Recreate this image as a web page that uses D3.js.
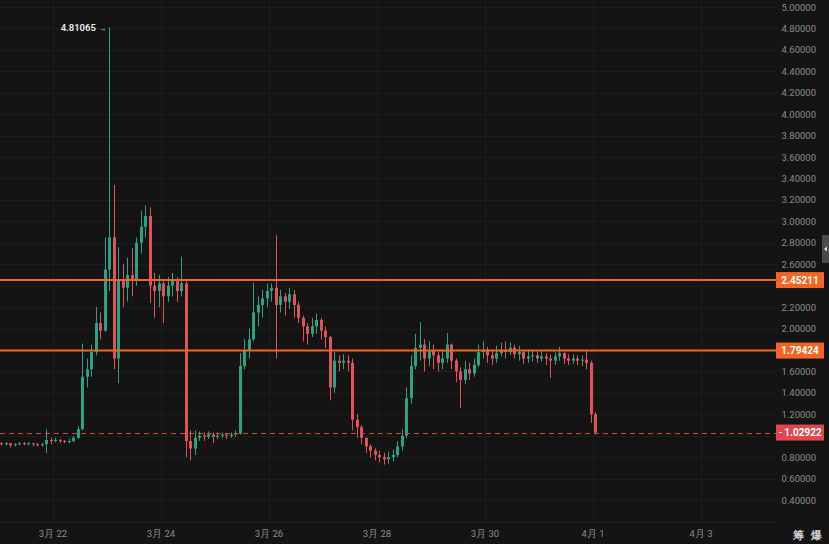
<!DOCTYPE html>
<html>
<head>
<meta charset="utf-8">
<script src="https://cdn.jsdelivr.net/npm/d3@7"></script>
<style>
  html, body { margin: 0; padding: 0; background: #141414; }
  svg { display: block; }
  text { font-family: Roboto, "Noto Sans", Arial, sans-serif; }
</style>
</head>
<body>
<svg id="chart" width="829" height="544"></svg>
<script>
// ---- data (2-hour candles starting 3月21 00:00) ----
const startTime = "2025-03-21T00:00:00";
const intervalHours = 2;
const firstOpen = 0.93;
const closes = [
  0.92,0.93,0.91,0.92,0.93,0.92,0.93,0.92,0.91,0.92,
  0.96,0.95,0.96,0.95,0.94,0.95,0.98,1.06,1.55,1.62,
  1.78,2.05,1.98,2.55,2.85,1.72,2.45,2.38,2.50,2.45,
  2.80,2.95,3.05,2.40,2.35,2.42,2.30,2.40,2.45,2.35,
  2.42,0.95,0.88,0.98,1.00,0.99,1.01,0.99,1.00,1.01,
  1.00,1.01,1.02,1.65,1.80,1.90,2.15,2.22,2.28,2.35,
  2.38,2.22,2.30,2.25,2.32,2.22,2.10,2.02,1.95,2.02,
  2.08,1.98,1.92,1.45,1.70,1.68,1.70,1.68,1.15,1.08,
  0.98,0.90,0.86,0.82,0.80,0.78,0.80,0.82,0.90,1.00,
  1.35,1.65,1.82,1.85,1.72,1.80,1.75,1.68,1.72,1.85,
  1.70,1.60,1.52,1.62,1.58,1.66,1.78,1.80,1.75,1.72,
  1.77,1.80,1.78,1.82,1.76,1.78,1.72,1.74,1.75,1.72,
  1.74,1.72,1.70,1.74,1.77,1.72,1.70,1.72,1.70,1.71,
  1.68,1.20,1.02922
];
const highs = [
  0.94,0.94,0.93,0.93,0.94,0.94,0.94,0.93,0.93,0.93,
  1.06,0.98,0.98,0.97,0.96,0.97,1.00,1.09,1.86,1.72,
  1.85,2.20,2.15,2.85,4.81065,3.34,2.76,2.60,2.66,2.75,
  2.85,3.10,3.15,3.13,2.52,2.50,2.45,2.48,2.52,2.48,
  2.67,2.45,1.05,1.05,1.04,1.03,1.04,1.03,1.03,1.03,
  1.02,1.03,1.05,1.77,1.90,2.00,2.43,2.30,2.36,2.42,
  2.42,2.87,2.36,2.33,2.38,2.36,2.25,2.12,2.05,2.10,
  2.14,2.10,2.02,1.93,1.78,1.75,1.76,1.75,1.72,1.20,
  1.10,0.98,0.92,0.88,0.86,0.84,0.85,0.87,0.95,1.06,
  1.45,1.75,1.95,2.06,1.90,1.88,1.85,1.78,1.80,1.96,
  1.86,1.72,1.64,1.70,1.68,1.72,1.85,1.88,1.83,1.80,
  1.84,1.87,1.88,1.87,1.85,1.84,1.80,1.79,1.80,1.78,
  1.79,1.77,1.76,1.78,1.83,1.78,1.76,1.76,1.75,1.75,
  1.80,1.70,1.22
];
const lows = [
  0.91,0.91,0.89,0.90,0.91,0.91,0.91,0.90,0.90,0.90,
  0.84,0.92,0.94,0.93,0.93,0.93,0.94,0.97,1.05,1.45,
  1.55,1.75,1.90,1.97,2.35,1.62,1.49,2.20,2.25,2.30,
  2.40,2.70,2.85,2.24,2.10,2.20,2.05,2.25,2.30,2.25,
  2.30,0.80,0.77,0.82,0.95,0.95,0.97,0.93,0.97,0.98,
  0.97,0.98,0.99,1.01,1.62,1.72,1.88,2.02,2.10,2.20,
  2.25,1.72,2.15,2.12,2.18,2.10,2.05,1.88,1.85,1.92,
  1.95,1.90,1.82,1.33,1.40,1.60,1.62,1.60,1.05,0.98,
  0.92,0.84,0.80,0.77,0.75,0.73,0.74,0.76,0.80,0.86,
  0.98,1.30,1.62,1.70,1.60,1.65,1.62,1.60,1.62,1.68,
  1.62,1.50,1.26,1.48,1.52,1.55,1.64,1.72,1.68,1.66,
  1.68,1.74,1.72,1.75,1.72,1.70,1.67,1.68,1.69,1.68,
  1.69,1.66,1.54,1.66,1.70,1.67,1.66,1.67,1.66,1.65,
  1.62,1.12,1.01
];
const yTicks = [0.4,0.6,0.8,1.0,1.2,1.4,1.6,1.8,2.0,2.2,2.4,2.6,2.8,3.0,3.2,3.4,3.6,3.8,4.0,4.2,4.4,4.6,4.8,5.0];
const xTickDates = ["2025-03-22","2025-03-24","2025-03-26","2025-03-28","2025-03-30","2025-04-01","2025-04-03"];
const xTickLabels = ["3月 22","3月 24","3月 26","3月 28","3月 30","4月 1","4月 3"];
const levelLines = [2.45211, 1.79424];
const lastPrice = 1.02922;
const highLabel = "4.81065";
const cornerLabels = ["筹","爆"];

// ---- build candles ----
const t0 = new Date(startTime).getTime();
const hourMs = 3600 * 1000;
const candles = closes.map((c, i) => ({
  t: new Date(t0 + i * intervalHours * hourMs),
  tc: new Date(t0 + (i + 0.5) * intervalHours * hourMs),
  o: i === 0 ? firstOpen : closes[i - 1],
  h: highs[i], l: lows[i], c: c
}));

// ---- layout ----
const W = 829, H = 544;
const plotR = 776, plotB = 522;
const bg = "#141414", gridC = "#1d1d1d";
const upC = "#2aa385", downC = "#e0535b";
const orange = "#f26522", lastC = "#e2474f";

const svg = d3.select("#chart");
svg.append("rect").attr("width", W).attr("height", H).attr("fill", bg);

const dayMs = 24 * hourMs;
const xDomain0 = t0 + dayMs / 54;
const x = d3.scaleTime()
  .domain([new Date(xDomain0), new Date(xDomain0 + dayMs * 776 / 54)])
  .range([0, plotR]);
const y = d3.scaleLinear().domain([0.4, 5.0]).range([500, 7]);

// grid
const grid = svg.append("g");
grid.selectAll(".hg").data(yTicks).join("line")
  .attr("x1", 0).attr("x2", plotR)
  .attr("y1", d => Math.round(y(d)) + 0.5).attr("y2", d => Math.round(y(d)) + 0.5)
  .attr("stroke", gridC).attr("stroke-width", 1);
grid.selectAll(".vg").data(xTickDates).join("line")
  .attr("x1", d => Math.round(x(new Date(d + "T00:00:00"))) + 0.5)
  .attr("x2", d => Math.round(x(new Date(d + "T00:00:00"))) + 0.5)
  .attr("y1", 0).attr("y2", plotB)
  .attr("stroke", gridC).attr("stroke-width", 1);
svg.append("line").attr("x1", 0).attr("x2", plotR).attr("y1", plotB + 0.5).attr("y2", plotB + 0.5)
  .attr("stroke", "#222").attr("stroke-width", 1);

// candles
const bw = 3;
const cg = svg.append("g");
cg.selectAll(".wick").data(candles).join("line")
  .attr("x1", d => Math.round(x(d.tc)) + 0.5).attr("x2", d => Math.round(x(d.tc)) + 0.5)
  .attr("y1", d => y(d.h)).attr("y2", d => y(d.l))
  .attr("stroke", d => d.c >= d.o ? upC : downC).attr("stroke-width", 1);
cg.selectAll(".body").data(candles).join("rect")
  .attr("x", d => Math.round(x(d.tc)) - 1)
  .attr("width", bw)
  .attr("y", d => y(Math.max(d.o, d.c)))
  .attr("height", d => Math.max(1, Math.abs(y(d.o) - y(d.c))))
  .attr("fill", d => d.c >= d.o ? upC : downC);

// last price dashed line
svg.append("line").attr("x1", 0).attr("x2", plotR)
  .attr("y1", Math.round(y(lastPrice)) + 0.5).attr("y2", Math.round(y(lastPrice)) + 0.5)
  .attr("stroke", "#d8444d").attr("stroke-width", 1).attr("stroke-dasharray", "5,4");

// level lines
svg.selectAll(".lvl").data(levelLines).join("line")
  .attr("x1", 0).attr("x2", plotR)
  .attr("y1", d => y(d)).attr("y2", d => y(d))
  .attr("stroke", orange).attr("stroke-width", 2);

// high annotation
const maxC = candles.reduce((a, b) => b.h > a.h ? b : a);
const hl = svg.append("text")
  .attr("x", x(maxC.tc) - 3).attr("y", y(maxC.h) + 3.5)
  .attr("text-anchor", "end").attr("fill", "#ececec")
  .attr("font-size", 9.5).attr("font-weight", 600);
hl.append("tspan").text(highLabel + " ");
hl.append("tspan").attr("font-size", 8).text("→");

// y axis labels (labels hidden under the price boxes are omitted, as in the reference)
const boxed = levelLines.concat([lastPrice]);
const visibleTicks = yTicks.filter(t => boxed.every(b => Math.abs(y(t) - y(b)) > 13));
const yAxisG = svg.append("g");
yAxisG.selectAll("text").data(visibleTicks).join("text")
  .attr("x", 816).attr("y", d => y(d) + 3.5)
  .attr("text-anchor", "end").attr("fill", "#8b8b8b").attr("font-size", 9.5)
  .text(d => d3.format(".5f")(d));

// level labels
const lblG = svg.append("g");
levelLines.forEach(v => {
  lblG.append("rect").attr("x", plotR).attr("y", y(v) - 8).attr("width", 48).attr("height", 16).attr("fill", orange);
  lblG.append("text").attr("x", plotR + 24).attr("y", y(v) + 3.5).attr("text-anchor", "middle")
    .attr("fill", "#fff").attr("font-size", 10).attr("font-weight", 700).text(d3.format(".5f")(v));
});
lblG.append("rect").attr("x", plotR).attr("y", y(lastPrice) - 8).attr("width", 48).attr("height", 16).attr("fill", lastC);
lblG.append("line").attr("x1", plotR + 3).attr("x2", plotR + 6).attr("y1", y(lastPrice)).attr("y2", y(lastPrice))
  .attr("stroke", "#fff").attr("stroke-width", 1);
lblG.append("text").attr("x", plotR + 27).attr("y", y(lastPrice) + 3.5).attr("text-anchor", "middle")
  .attr("fill", "#fff").attr("font-size", 10).attr("font-weight", 700).text(d3.format(".5f")(lastPrice));

// x axis labels
svg.append("g").selectAll("text").data(xTickDates).join("text")
  .attr("x", (d) => x(new Date(d + "T00:00:00")))
  .attr("y", 537).attr("text-anchor", "middle").attr("fill", "#8b8b8b").attr("font-size", 9.5)
  .text((d, i) => xTickLabels[i]);

// scroll handle at right edge
svg.append("rect").attr("x", 822).attr("y", 235).attr("width", 7).attr("height", 28).attr("rx", 1).attr("fill", "#4a4a4a");
svg.append("path").attr("d", "M824,249 L827,246.5 L827,251.5 Z").attr("fill", "#ddd");

// corner labels
svg.append("g").selectAll("text").data(cornerLabels).join("text")
  .attr("x", (d, i) => 798 + i * 18).attr("y", 539).attr("text-anchor", "middle")
  .attr("fill", "#d0d0d0").attr("font-size", 11).attr("font-weight", 700)
  .attr("font-family", "'Noto Sans CJK SC', sans-serif")
  .text(d => d);
</script>
</body>
</html>
